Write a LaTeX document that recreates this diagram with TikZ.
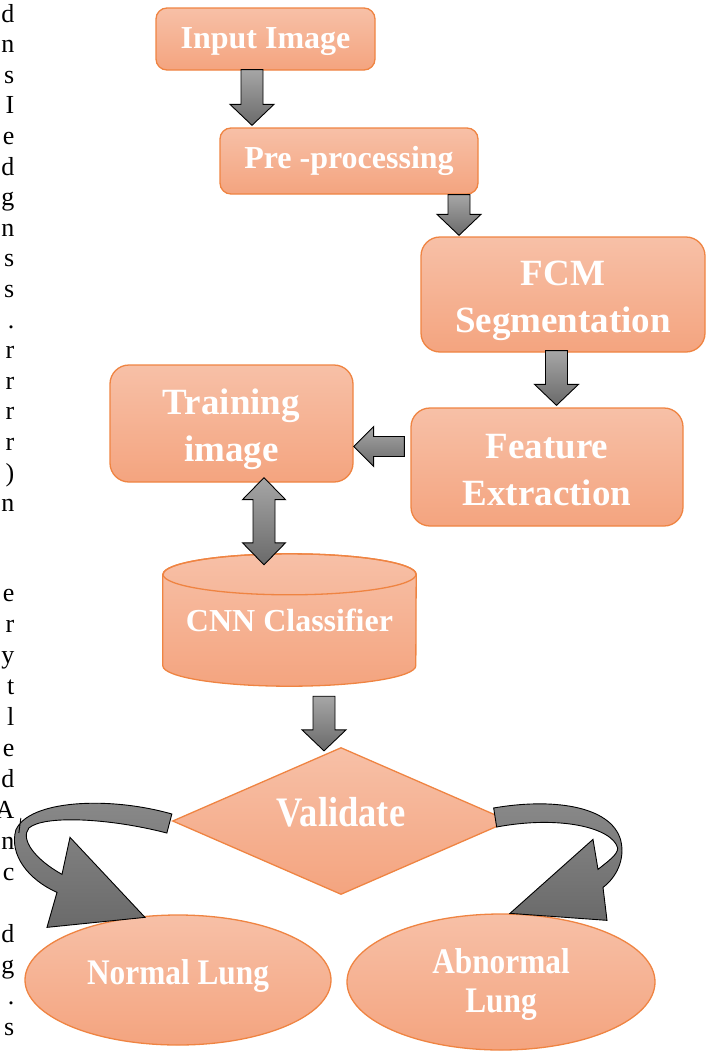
\documentclass[tikz,border=0pt]{standalone}
\usepackage{fontspec}
\setmainfont{Liberation Serif}
\newfontfamily\condserif[FakeStretch=0.87]{Liberation Serif}
\usetikzlibrary{calc,shapes.geometric,backgrounds}
\usepackage{xcolor}
\definecolor{peachtop}{HTML}{F7C0A7}
\definecolor{peachbot}{HTML}{F4A47F}
\definecolor{peachline}{HTML}{EF8442}
\definecolor{arrtop}{HTML}{A6A6A6}
\definecolor{arrmid}{HTML}{8A8A8A}
\definecolor{arrbot}{HTML}{6A6A6A}
\tikzset{
  box/.style={draw=peachline, line width=1.3pt, top color=peachtop, bottom color=peachbot, align=center, text=white, inner sep=0pt},
  roundbox/.style={box, rectangle, rounded corners=11pt},
  bigbox/.style={box, rectangle, rounded corners=19pt},
  txtA/.style={font=\fontsize{32}{38}\selectfont\bfseries},
  txtB/.style={font=\fontsize{37}{47}\selectfont\bfseries},
  txtC/.style={font=\condserif\fontsize{36}{39}\selectfont\bfseries},
  coltext/.style={anchor=base east, inner sep=0pt, font=\fontsize{26}{30}\selectfont},
  blockarrow/.style={draw=black, line width=0.9pt, top color=arrtop, bottom color=arrbot},
  curvearrow/.style={blockarrow, top color=arrmid}
}
% block arrows: #1 tail point, #2 tip point
\newcommand\downblock[2]{%
  \path[blockarrow] let \p1=#1, \p2=#2 in
    (\x1-11,\y1) -- (\x1+11,\y1) -- (\x1+11,\y2+21) -- (\x1+22,\y2+21)
    -- (\x1,\y2) -- (\x1-22,\y2+21) -- (\x1-11,\y2+21) -- cycle;}
\newcommand\leftblock[2]{%
  \path[blockarrow] let \p1=#1, \p2=#2 in
    (\x1,\y2+10) -- (\x2+20,\y2+10) -- (\x2+20,\y2+20) -- (\x2,\y2)
    -- (\x2+20,\y2-20) -- (\x2+20,\y2-10) -- (\x1,\y2-10) -- cycle;}
\newcommand\updownblock[2]{%
  \path[blockarrow] let \p1=#1, \p2=#2 in
    (\x1,\y1) -- (\x1+21.5,\y1-22) -- (\x1+11,\y1-22) -- (\x1+11,\y2+22)
    -- (\x1+21.5,\y2+22) -- (\x1,\y2) -- (\x1-21.5,\y2+22) -- (\x1-11,\y2+22)
    -- (\x1-11,\y1-22) -- (\x1-21.5,\y1-22) -- cycle;}

\begin{document}
\begin{tikzpicture}[x=1pt, y=-1pt]
  \useasboundingbox (0,0) rectangle (707,1052);
  % line ends of the page text, cut at the left edge
  \foreach \ch [count=\i] in {d,n,s,I,e,d,g,n,s,s,.,r,r,r,r,),n}
    \node[coltext] (colA\i) at (14.5,{22+30.6*(\i-1)}) {\ch};
  \foreach \ch [count=\i] in {e,r,y,t,l,e,d,A,n,c}
    \node[coltext] (colB\i) at (14.5,{601+31*(\i-1)}) {\ch};
  \foreach \ch [count=\i] in {d,g,.,s}
    \node[coltext] (colC\i) at (14.5,{942+31*(\i-1)}) {\ch};

  \node[roundbox, txtA, minimum width=219pt, minimum height=62pt] (inp) at (265.5,39) {\rule{0pt}{26pt}Input Image};
  \node[roundbox, txtA, minimum width=258pt, minimum height=66pt] (pre) at (349,161) {Pre -processing};
  \node[bigbox, txtB, minimum width=284pt, minimum height=115pt] (fcm) at (563,294.5) {\rule{0pt}{37pt}FCM\\Segmentation};
  \node[bigbox, txtB, minimum width=272pt, minimum height=118pt] (feat) at (547,467) {\rule{0pt}{31pt}Feature\\Extraction};
  \node[bigbox, txtB, minimum width=243pt, minimum height=117pt] (train) at (231.5,423.5) {\rule{0pt}{37pt}Training\\image};
  \node[txtA, text=white, inner sep=0pt, minimum width=253pt, minimum height=132pt] (cnn) at (289.5,620) {CNN Classifier};
  \begin{scope}[on background layer]
    \path[box] ([yshift=-20.5pt]cnn.north west) -- ([yshift=20.5pt]cnn.south west)
      arc[start angle=180, end angle=360, x radius=126.5pt, y radius=20.5pt]
      -- ([yshift=-20.5pt]cnn.north east)
      arc[start angle=0, end angle=180, x radius=126.5pt, y radius=20.5pt] -- cycle;
    \draw[peachline, line width=1.3pt] ([yshift=-20.5pt]cnn.north) ellipse[x radius=126.5pt, y radius=20.5pt];
  \end{scope}
  \node[box, diamond, aspect=2.29, minimum width=337pt, minimum height=147pt, text depth=18pt,
        font=\condserif\fontsize{42}{46}\selectfont\bfseries] (val) at (341,821) {Validate};
  \node[box, ellipse, txtC, minimum width=306pt, minimum height=130pt, text depth=17pt] (nor) at (178,980) {Normal Lung};
  \node[box, ellipse, txtC, minimum width=308pt, minimum height=136pt] (abn) at (501,982) {\rule{0pt}{30.5pt}Abnormal\\Lung};

  \downblock{([xshift=-13.5pt,yshift=1pt]inp.south)}{([yshift=2pt]pre.north)}
  \downblock{([xshift=110pt]pre.south)}{([yshift=1pt]fcm.north)}
  \downblock{([xshift=-6.5pt,yshift=2pt]fcm.south)}{([yshift=2pt]feat.north)}
  \leftblock{([xshift=-6pt]feat.west)}{([yshift=-23pt]train.east)}
  \updownblock{([xshift=32.5pt,yshift=5pt]train.south)}{([xshift=-25.5pt,yshift=-11pt]cnn.north)}
  \downblock{([xshift=34.5pt,yshift=-10pt]cnn.south)}{([yshift=-4pt]val.north)}

  % curved arrows out of the decision
  \path[curvearrow] let \p1=(val.west), \p2=(nor.north) in
    (\x1,\y1+7) .. controls (\x1-63,\y1+25) and (\x1-143,\y1+21) .. (\x1-156,\y1-9)
    .. controls (\x1-163,\y1-34) and (\x1-143,\y1-59) .. (\x2-121,\y2+22)
    -- (\x2-131,\y2-13) -- (\x2-33,\y2-3) -- (\x2-108,\y2+77) -- (\x2-116,\y2+40)
    .. controls (\x2-143,\y2+55) and (\x2-158,\y2+75) .. (\x1-143,\y1-7)
    .. controls (\x1-128,\y1+6) and (\x1-63,\y1+3) .. (\x1-5,\y1-12) -- cycle
    (\x1-151,\y1+3) -- (\x1-153,\y1-12);
  \path[curvearrow] let \p1=(val.east), \p2=(abn.north) in
    (\x1-16.5,\y1+13) .. controls (\x1+40.5,\y1+23) and (\x1+100.5,\y1+16) .. (\x1+110.5,\y1-19)
    .. controls (\x1+115.5,\y1-39) and (\x1+105.5,\y1-57) .. (\x2+102,\y2+26)
    -- (\x2+106,\y2-7) -- (\x2+9,\y2) -- (\x2+92,\y2+74) -- (\x2+97,\y2+44)
    .. controls (\x2+107,\y2+52) and (\x2+117,\y2+59) .. (\x1+107.5,\y1-27)
    .. controls (\x1+102.5,\y1-7) and (\x1+50.5,\y1+6) .. (\x1-13.5,\y1-6) -- cycle;
\end{tikzpicture}
\end{document}
